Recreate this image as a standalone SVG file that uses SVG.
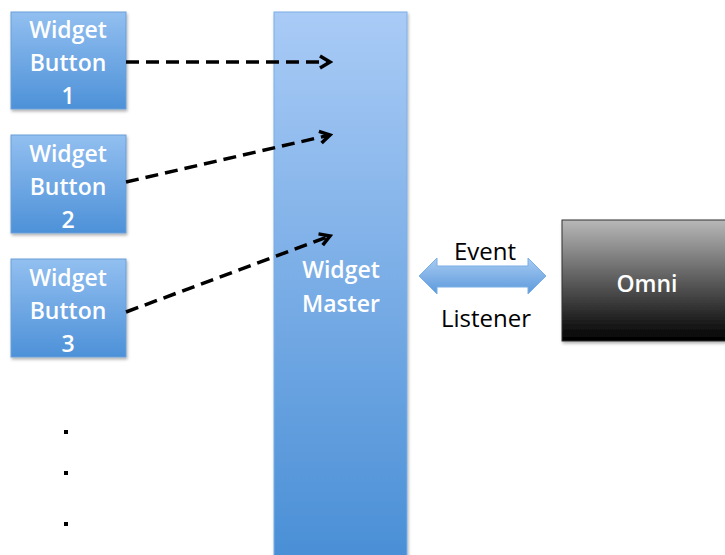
<svg xmlns="http://www.w3.org/2000/svg" width="725" height="555" viewBox="0 0 725 555">
<defs>
<linearGradient id="gBtn" x1="0" y1="0" x2="0" y2="1">
<stop offset="0" stop-color="#92bff0"/>
<stop offset="1" stop-color="#4d91d8"/>
</linearGradient>
<linearGradient id="gMaster" x1="0" y1="0" x2="0" y2="1">
<stop offset="0" stop-color="#a9cbf6"/>
<stop offset="1" stop-color="#4a8fd6"/>
</linearGradient>
<linearGradient id="gOmni" x1="0" y1="0" x2="0" y2="1">
<stop offset="0" stop-color="#b8b8b8"/>
<stop offset="1" stop-color="#000000"/>
</linearGradient>
<linearGradient id="gDbl" x1="0" y1="0" x2="0" y2="1">
<stop offset="0" stop-color="#a8cbf2"/>
<stop offset="1" stop-color="#5b99dc"/>
</linearGradient>
<filter id="sh" x="-10%" y="-10%" width="130%" height="130%">
<feDropShadow dx="1" dy="2" stdDeviation="1.5" flood-color="#000" flood-opacity="0.3"/>
</filter>
<marker id="chev" viewBox="0 0 16 16" refX="13" refY="8" markerWidth="16" markerHeight="16" markerUnits="userSpaceOnUse" orient="auto">
<path d="M3,2 L13,8 L3,14" fill="none" stroke="#000" stroke-width="3.5"/>
</marker>
</defs>
<style>
.btn{fill:url(#gBtn);stroke:#6a9fd8;stroke-width:1;filter:url(#sh)}
.wt{font-family:"Open Sans","Liberation Sans",Arial,sans-serif;font-size:23px;font-weight:600;fill:#fff;text-anchor:middle}
.bt{font-family:"Open Sans","Liberation Sans",Arial,sans-serif;font-size:24px;font-weight:400;fill:#000;text-anchor:middle}
.dash{fill:none;stroke:#000;stroke-width:3.5;stroke-dasharray:13 7;marker-end:url(#chev)}
</style>
<rect width="725" height="555" fill="#fff"/>
<g id="button1">
<rect class="btn" x="11" y="12" width="115" height="97"/>
<text class="wt" x="68" y="38">Widget</text>
<text class="wt" x="68" y="71">Button</text>
<text class="wt" x="68" y="104">1</text>
</g>
<g id="button2">
<rect class="btn" x="11" y="135" width="115" height="98"/>
<text class="wt" x="68" y="162">Widget</text>
<text class="wt" x="68" y="195">Button</text>
<text class="wt" x="68" y="228">2</text>
</g>
<g id="button3">
<rect class="btn" x="11" y="259" width="115" height="98"/>
<text class="wt" x="68" y="286">Widget</text>
<text class="wt" x="68" y="319">Button</text>
<text class="wt" x="68" y="352">3</text>
</g>
<g id="master">
<rect x="274" y="12" width="133" height="545" fill="url(#gMaster)" stroke="#7aaee6" stroke-width="1" filter="url(#sh)"/>
<text class="wt" x="341" y="278">Widget</text>
<text class="wt" x="341" y="312">Master</text>
</g>
<g id="omni">
<rect x="562" y="220" width="170" height="121" fill="url(#gOmni)" stroke="#333" stroke-width="1" filter="url(#sh)"/>
<text class="wt" x="647" y="292">Omni</text>
</g>
<g id="dots">
<rect x="64" y="430" width="4" height="4" fill="#000"/>
<rect x="64" y="471" width="4" height="4" fill="#000"/>
<rect x="64" y="522" width="4" height="4" fill="#000"/>
</g>
<g id="connectors">
<line class="dash" x1="126" y1="62" x2="330" y2="62"/>
<line class="dash" x1="126" y1="182" x2="330" y2="135"/>
<line class="dash" x1="126" y1="312" x2="330" y2="236"/>
<path d="M419,276 L437,258 L437,266 L528,266 L528,258 L546,276 L528,294 L528,287 L437,287 L437,294 Z" fill="url(#gDbl)" stroke="#7aaee6" stroke-width="1"/>
<text class="bt" x="485" y="260">Event</text>
<text class="bt" x="486" y="327">Listener</text>
</g>
</svg>
